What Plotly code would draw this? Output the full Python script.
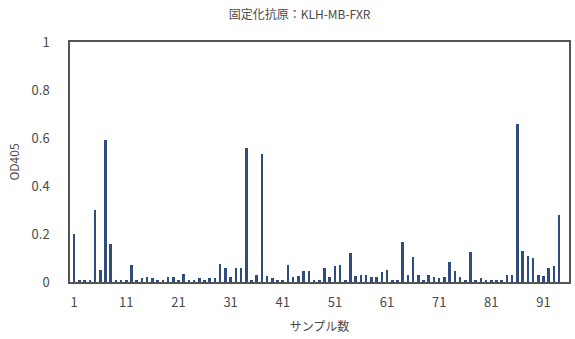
import plotly.graph_objects as go

samples = list(range(1, 95))
od405 = [
    0.20, 0.005, 0.01, 0.005, 0.30, 0.05, 0.59, 0.16, 0.005, 0.01,
    0.005, 0.07, 0.01, 0.015, 0.02, 0.015, 0.005, 0.005, 0.02, 0.02,
    0.005, 0.035, 0.005, 0.01, 0.015, 0.01, 0.015, 0.015, 0.075, 0.06,
    0.02, 0.06, 0.06, 0.56, 0.005, 0.03, 0.535, 0.025, 0.015, 0.005,
    0.01, 0.07, 0.02, 0.025, 0.045, 0.045, 0.01, 0.005, 0.06, 0.02,
    0.065, 0.07, 0.01, 0.12, 0.025, 0.03, 0.03, 0.02, 0.02, 0.04,
    0.05, 0.01, 0.01, 0.165, 0.03, 0.105, 0.03, 0.005, 0.03, 0.02,
    0.015, 0.02, 0.085, 0.045, 0.02, 0.005, 0.125, 0.01, 0.015, 0.005,
    0.005, 0.005, 0.01, 0.03, 0.03, 0.66, 0.13, 0.11, 0.10, 0.03,
    0.025, 0.06, 0.065, 0.28,
]
x_ticks = [1, 11, 21, 31, 41, 51, 61, 71, 81, 91]
y_ticks = [0, 0.2, 0.4, 0.6, 0.8, 1]
y_tick_text = ["0", "0.2", "0.4", "0.6", "0.8", "1"]

title_text = "固定化抗原：KLH-MB-FXR"
x_title = "サンプル数"
y_title = "OD405"

FONT = "Noto Sans CJK JP, Noto Sans, sans-serif"
TXT = "#4a4a4a"

fig = go.Figure(go.Bar(x=samples, y=od405, width=0.5,
                       marker=dict(color="#2e4d7e", line=dict(width=0))))

fig.update_layout(
    width=575, height=339,
    margin=dict(l=70, r=4, t=42, b=57),
    paper_bgcolor="white", plot_bgcolor="white",
    showlegend=False,
    font=dict(family=FONT, color=TXT, size=13),
    title=dict(text=title_text, x=0.46, xanchor="center", xref="paper",
               y=0.955, yanchor="middle", font=dict(size=12, color=TXT)),
    bargap=0,
)
fig.update_xaxes(
    range=[0.2, 95.9], tickmode="array", tickvals=x_ticks,
    showline=True, mirror=True, linecolor="#555555", linewidth=1.5,
    showgrid=False, zeroline=False, ticks="", ticklabelstandoff=8,
    title=dict(text=x_title, font=dict(size=12, color=TXT), standoff=12),
)
fig.update_yaxes(
    range=[0, 1], tickmode="array", tickvals=y_ticks, ticktext=y_tick_text,
    showline=True, mirror=True, linecolor="#555555", linewidth=1.5,
    showgrid=False, zeroline=False, ticks="", ticklabelstandoff=16,
    title=dict(text=y_title, font=dict(size=12, color=TXT), standoff=9),
)

fig.write_html("out.html",
               config={"displayModeBar": False},
               post_script="document.body.style.margin='0';document.body.style.overflow='hidden';")
